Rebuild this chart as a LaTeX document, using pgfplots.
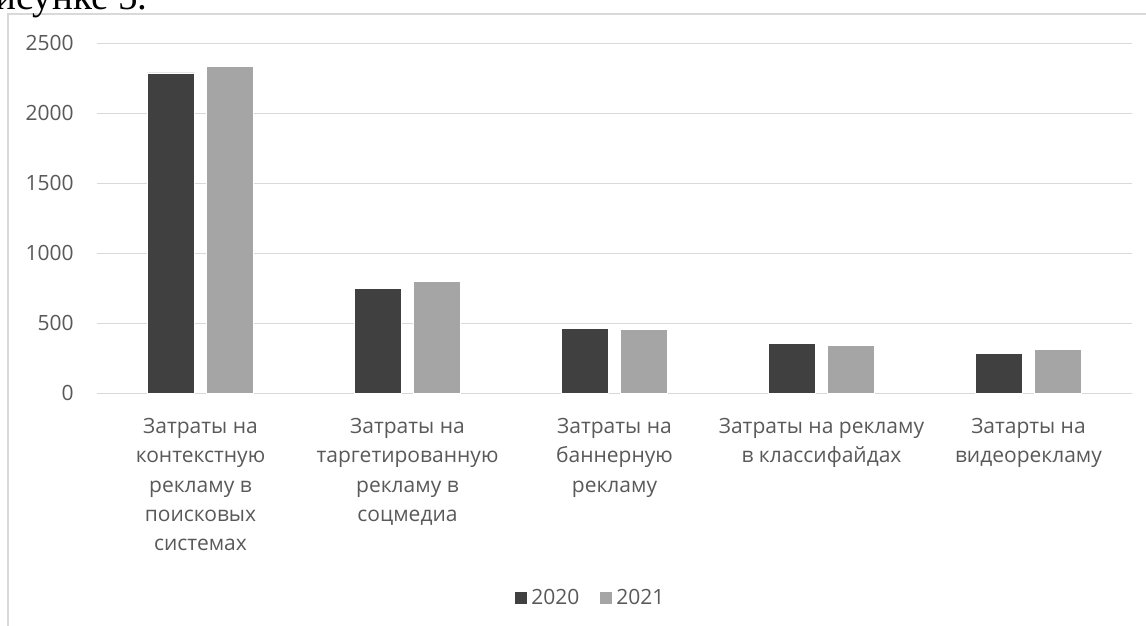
\documentclass[border=0pt]{standalone}
\usepackage{pgfplots}
\pgfplotsset{compat=1.18}
\usepackage{fontspec}
\setmainfont{Open Sans}
\newfontfamily\seriffont{Liberation Serif}
\definecolor{txtgray}{HTML}{595959}
\definecolor{gridgray}{HTML}{D9D9D9}
\definecolor{darkbar}{HTML}{404040}
\definecolor{lightbar}{HTML}{A5A5A5}
\begin{document}
\begin{tikzpicture}[x=1pt,y=1pt]
\useasboundingbox (0,-313) rectangle (573,0);
\draw[gridgray, line width=0.6pt] (4,-330) -- (4,-7) -- (600,-7);
\node[font=\seriffont\fontsize{19.5}{21}\selectfont, anchor=base east, inner sep=0pt] at (74,-5) {рисунке 5.};
\begin{axis}[
  at={(48.5pt,-196.65pt)}, anchor=south west,
  scale only axis, width=517.5pt, height=175pt,
  ybar, bar width=23.5pt,
  ymin=0, ymax=2500, xmin=-0.5, xmax=4.5,
  enlargelimits=false, clip=false,
  ytick={0,500,1000,1500,2000,2500},
  xtick={0,1,2,3,4},
  xticklabels={
    {Затраты на\\контекстную\\рекламу в\\поисковых\\системах},
    {Затраты на\\таргетированную\\рекламу в\\соцмедиа},
    {Затраты на\\баннерную\\рекламу},
    {Затраты на рекламу\\в классифайдах},
    {Затарты на\\видеорекламу}},
  axis line style={draw=none},
  tick style={draw=none},
  major tick length=0pt,
  ymajorgrids,
  major grid style={gridgray, line width=0.6pt},
  /pgf/number format/assume math mode=true,
  /pgf/number format/1000 sep={},
  tick label style={text=txtgray, font=\fontsize{10.5}{14.65}\selectfont},
  yticklabel style={anchor=east, inner sep=0pt, xshift=-11.5pt},
  xticklabel style={anchor=north, align=center, inner sep=0pt, yshift=-12.3pt},
  legend style={at={(0.4773,-0.585)}, anchor=center, draw=none, fill=none,
    legend columns=2, font=\fontsize{10.5}{12}\selectfont, text=txtgray,
    /tikz/every even column/.append style={column sep=8pt},
    nodes={inner sep=1.8pt}},
  legend image code/.code={\fill[#1] (0pt,-3.25pt) rectangle (6.5pt,3.25pt);},
]
\addplot[fill=darkbar, draw=white, line width=0.4pt, bar shift=-14.75pt]
  coordinates {(0,2288) (1,750) (2,462) (3,358) (4,283)};
\addplot[fill=lightbar, draw=white, line width=0.4pt, bar shift=14.75pt]
  coordinates {(0,2333) (1,796) (2,453) (3,342) (4,311)};
\legend{2020,2021}
\end{axis}
\end{tikzpicture}
\end{document}
